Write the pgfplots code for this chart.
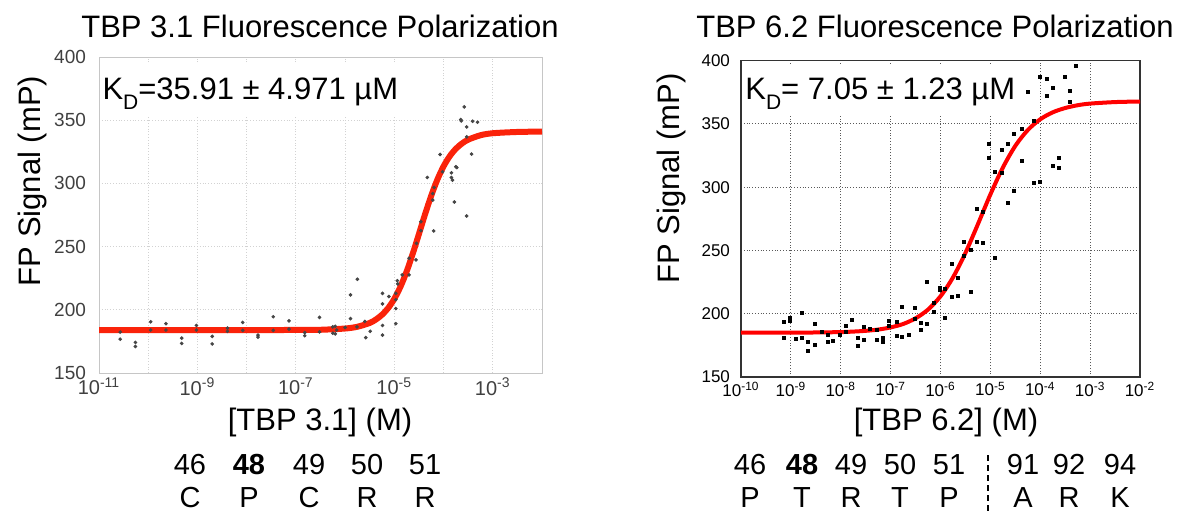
\documentclass[border=0pt]{standalone}
\usepackage{fontspec}
\setmainfont{Liberation Sans}
\usepackage{pgfplots}
\pgfplotsset{compat=1.18}
\definecolor{fitred}{RGB}{250,35,10}
\definecolor{dotgray}{RGB}{70,70,70}

% log10 of concentration (M), FP signal (mP)
\pgfplotstableread{
x y
-10.57 182.4
-10.57 176.8
-10.26 174.2
-10.26 171.0
-9.95 190.5
-9.95 184.0
-9.64 189.0
-9.64 184.0
-9.32 177.6
-9.32 173.4
-9.02 187.6
-9.02 184.0
-8.70 179.0
-8.70 173.0
-8.39 185.5
-8.39 183.0
-8.08 190.0
-8.08 183.7
-7.77 180.0
-7.77 178.4
-7.46 194.5
-7.46 183.7
-7.14 191.3
-7.14 184.7
-6.82 182.0
-6.82 179.5
-6.52 194.0
-6.52 182.6
-6.25 186.5
-6.25 181.5
-6.20 187.0
-6.20 181.0
-6.17 184.0
-6.00 186.0
-5.89 211.8
-5.89 193.0
-5.76 186.5
-5.75 224.2
-5.60 190.8
-5.58 178.0
-5.49 183.0
-5.24 213.0
-5.24 204.7
-5.24 187.6
-5.24 180.0
-5.11 210.5
-4.97 213.0
-4.97 208.0
-4.97 201.0
-4.97 189.0
-4.94 223.0
-4.93 220.5
-4.84 227.6
-4.70 240.8
-4.70 227.6
-4.56 239.5
-4.55 252.6
-4.46 269.7
-4.46 262.6
-4.33 304.7
-4.22 292.0
-4.22 286.8
-4.19 296.8
-4.20 262.4
-4.07 322.9
-4.02 309.2
-3.84 308.4
-3.84 304.7
-3.82 302.6
-3.78 285.3
-3.75 313.2
-3.73 312.5
-3.65 350.5
-3.64 349.5
-3.58 360.5
-3.53 344.7
-3.53 336.8
-3.53 274.2
-3.43 323.2
-3.41 349.2
-3.31 348.4
}\pointsA

\pgfplotstableread{
x y
-11 184.0
-8 184.0
-7 184.05
-6.5 184.2
-6 185.2
-5.75 186.6
-5.5 189.6
-5.375 192.3
-5.25 196.1
-5.125 201.4
-5.0 208.7
-4.875 218.3
-4.75 230.3
-4.625 244.5
-4.5 260.0
-4.375 275.7
-4.25 290.3
-4.125 303.1
-4.0 313.5
-3.875 321.5
-3.75 327.4
-3.625 331.6
-3.5 334.6
-3.25 338.1
-3.0 339.7
-2.5 340.7
-2.0 341.0
}\fitA

\pgfplotstableread{
x y
-9.14 193.2
-9.14 180.8
-9.02 197.1
-9.02 194.0
-8.90 180.0
-8.78 200.5
-8.78 180.8
-8.65 177.4
-8.65 171.0
-8.52 192.1
-8.52 175.5
-8.38 185.5
-8.26 183.4
-8.26 177.9
-8.15 178.7
-8.01 183.4
-7.90 190.5
-7.90 186.0
-7.77 195.3
-7.65 180.8
-7.65 174.2
-7.53 190.0
-7.53 179.5
-7.41 187.9
-7.28 187.4
-7.28 179.5
-7.15 180.8
-7.15 177.6
-7.03 194.7
-7.03 190.5
-6.88 193.2
-6.88 182.6
-6.77 205.3
-6.77 181.6
-6.64 183.4
-6.52 204.5
-6.52 195.8
-6.40 192.6
-6.40 187.4
-6.28 225.0
-6.28 192.1
-6.14 208.4
-6.14 201.8
-6.02 220.3
-6.02 219.0
-5.91 196.6
-5.91 219.5
-5.78 239.2
-5.78 213.7
-5.65 228.2
-5.65 214.2
-5.53 257.1
-5.53 245.8
-5.39 250.5
-5.39 217.6
-5.27 282.6
-5.27 257.1
-5.15 280.8
-5.15 256.3
-5.03 334.2
-5.03 322.9
-4.91 312.4
-4.91 244.0
-4.77 329.5
-4.77 311.0
-4.65 334.2
-4.65 287.9
-4.53 342.1
-4.53 297.1
-4.37 345.8
-4.37 321.0
-4.24 375.5
-4.12 352.4
-4.12 303.7
-4.00 387.4
-4.00 304.5
-3.87 385.3
-3.87 372.1
-3.74 378.7
-3.74 316.8
-3.62 322.9
-3.62 315.0
-3.50 387.4
-3.40 376.3
-3.40 367.4
-3.28 396.0
}\pointsB

\pgfplotstableread{
x y
-10 185.0
-9 185.07
-8.5 185.2
-8 185.5
-7.75 185.9
-7.5 186.5
-7.25 187.5
-7 189.2
-6.75 191.9
-6.5 196.4
-6.25 203.3
-6.0 213.8
-5.75 228.7
-5.5 248.1
-5.25 270.8
-5.0 294.3
-4.75 315.5
-4.5 332.7
-4.25 345.2
-4.0 353.7
-3.75 359.2
-3.5 362.6
-3.25 364.8
-3.0 366.1
-2.5 367.3
-2.0 367.75
}\fitB

\pgfplotsset{fpaxis/.style={
  scale only axis, anchor=south west,
  ymin=150, ymax=400, ytick={150,200,...,400},
  tick style={draw=none},
  /pgf/number format/assume math mode=true,
}}

\newcommand{\bigtxt}{\fontsize{15.5}{18}\selectfont}
\newcommand{\seqtxt}{\fontsize{14.5}{17}\selectfont}
\newcommand{\subD}{\raisebox{-5pt}{\fontsize{10.5}{11}\selectfont D}}

\begin{document}
\begin{tikzpicture}
\useasboundingbox (0,0) rectangle (594pt,255.5pt);

% ---- left panel: TBP 3.1
\begin{axis}[fpaxis,
  at={(49.5pt,69pt)}, width=221.5pt, height=158pt,
  xmin=-11, xmax=-2,
  xtick={-11,-9,-7,-5,-3},
  xticklabels={10\textsuperscript{-11},10\textsuperscript{-9},10\textsuperscript{-7},10\textsuperscript{-5},10\textsuperscript{-3}},
  minor xtick={-10,-8,-6,-4},
  grid=both,
  major grid style={gray!35, densely dotted, line width=0.45pt},
  minor grid style={gray!35, densely dotted, line width=0.45pt},
  axis line style={gray!45},
  ticklabel style={font=\fontsize{9.5}{10}\selectfont, text=black!75},
  xticklabel style={font=\fontsize{10}{11}\selectfont, yshift=1pt},
  yticklabel style={xshift=-3pt},
]
\fill[white] (rel axis cs:0.004,0.81) rectangle (rel axis cs:0.70,0.981);
\addplot[only marks, mark=*, mark size=0.7pt, dotgray] table {\pointsA};
\addplot[fitred, line width=3pt, smooth] table {\fitA};
\node[anchor=base west, inner sep=0pt, font=\bigtxt] at (rel axis cs:0.007,0.864)
  {K\subD=35.91 ± 4.971 µM};
\end{axis}

% ---- right panel: TBP 6.2
\begin{axis}[fpaxis,
  at={(370.5pt,67pt)}, width=199.5pt, height=158.15pt,
  xmin=-10, xmax=-2,
  xtick={-10,-9,...,-2},
  xticklabels={10\textsuperscript{-10},10\textsuperscript{-9},10\textsuperscript{-8},10\textsuperscript{-7},10\textsuperscript{-6},10\textsuperscript{-5},10\textsuperscript{-4},10\textsuperscript{-3},10\textsuperscript{-2}},
  grid=major,
  major grid style={black!65, densely dotted, line width=0.5pt},
  axis line style={black!80, line width=0.7pt},
  ticklabel style={font=\fontsize{8.5}{9}\selectfont},
  yticklabel style={xshift=-2pt},
  xticklabel style={yshift=1pt},
]
\fill[white] (rel axis cs:0.005,0.83) rectangle (rel axis cs:0.70,0.99);
\addplot[only marks, mark=square*, mark size=0.75pt, black] table {\pointsB};
\addplot[red, line width=2pt, smooth] table {\fitB};
\node[anchor=base west, inner sep=0pt, font=\bigtxt] at (rel axis cs:0.010,0.876)
  {K\subD= 7.05 ± 1.23 µM};
\end{axis}

% titles and axis labels
\node[anchor=base, font=\bigtxt] at (160pt,237pt) {TBP 3.1 Fluorescence Polarization};
\node[anchor=base, font=\bigtxt] at (467.5pt,237pt) {TBP 6.2 Fluorescence Polarization};
\node[rotate=90, font=\bigtxt] at (16pt,165pt) {FP Signal (mP)};
\node[rotate=90, font=\bigtxt] at (335.5pt,166.3pt) {FP Signal (mP)};
\node[anchor=base, font=\bigtxt] at (160pt,40.5pt) {[TBP 3.1] (M)};
\node[anchor=base, font=\bigtxt] at (473pt,40.5pt) {[TBP 6.2] (M)};

% residue numbers and letters
\foreach \xx/\num/\aa in {95/46/C, 124.5/\textbf{48}/P, 154.5/49/C, 183.5/50/R, 212.5/51/R}
  {\node[anchor=base, font=\seqtxt, inner sep=0pt] at (\xx pt,18.5pt) {\num};
   \node[anchor=base, font=\seqtxt, inner sep=0pt] at (\xx pt,2pt) {\aa};}
\foreach \xx/\num/\aa in {375/46/P, 401/\textbf{48}/T, 425.5/49/R, 450/50/T, 474.5/51/P, 511.5/91/A, 534.5/92/R, 560/94/K}
  {\node[anchor=base, font=\seqtxt, inner sep=0pt] at (\xx pt,18.5pt) {\num};
   \node[anchor=base, font=\seqtxt, inner sep=0pt] at (\xx pt,2pt) {\aa};}
\draw[line width=1pt, dash pattern=on 3pt off 2pt] (494pt,28pt) -- (494pt,0pt);
\end{tikzpicture}
\end{document}
